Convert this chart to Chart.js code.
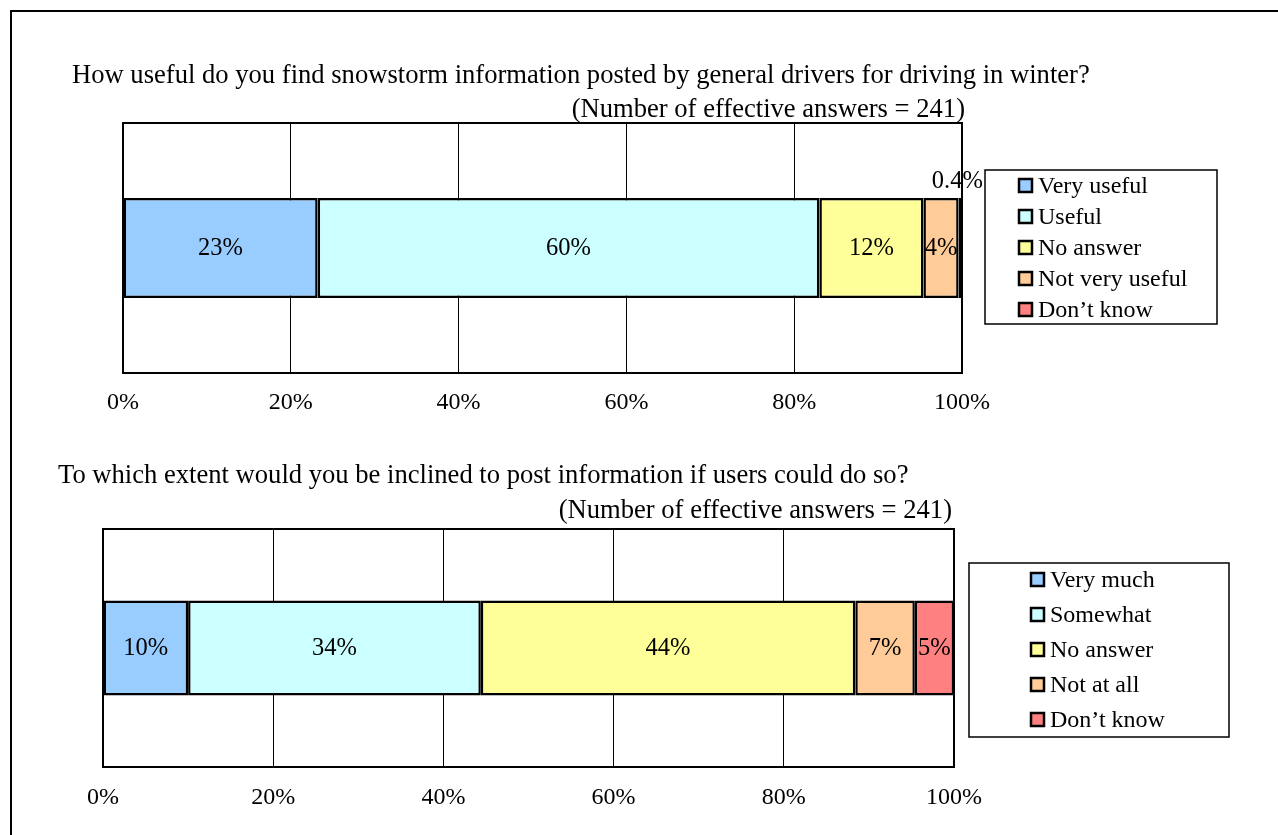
<!DOCTYPE html>
<html>
<head>
<meta charset="utf-8">
<script src="https://cdn.jsdelivr.net/npm/chart.js@4/dist/chart.umd.min.js"></script>
<style>
  html, body { margin: 0; padding: 0; background: #fff; overflow: hidden; }
  #frame { position: absolute; left: 10px; top: 10px; width: 1400px; height: 1000px; border: 2px solid #000; box-sizing: border-box; }
  .box { position: absolute; left: 0; width: 1278px; }
</style>
</head>
<body>
<div id="frame"></div>
<div class="box" style="top:0;height:430px"><canvas id="c1"></canvas></div>
<div class="box" style="top:430px;height:405px"><canvas id="c2"></canvas></div>
<script>
// survey 1
var title1  = 'How useful do you find snowstorm information posted by general drivers for driving in winter?',
    note1   = '(Number of effective answers = 241)',
    cats1   = ['Very useful', 'Useful', 'No answer', 'Not very useful', 'Don\u2019t know'],
    vals1   = [23.2, 59.8, 12.4, 4.2, 0.4];

// survey 2
var title2  = 'To which extent would you be inclined to post information if users could do so?',
    note2   = '(Number of effective answers = 241)',
    cats2   = ['Very much', 'Somewhat', 'No answer', 'Not at all', 'Don\u2019t know'],
    vals2   = [10.0, 34.4, 44.0, 7.0, 4.6];

var colors  = ['#99CCFF', '#CCFFFF', '#FFFF99', '#FFCC99', '#FF8080'],
    xMax    = 100,
    xStep   = 20;

var FONT = '"Liberation Serif", "Times New Roman", serif';

var fmtPct = function(v){
    return (v < 1 ? v.toFixed(1) : Math.round(v)) + '%';
};

// frame, titles, segment labels and boxed legend
var extras = {
    id: 'extras',
    afterDraw: function(chart){
        var ctx = chart.ctx,
            o   = chart.options.plugins.extras,
            a   = chart.chartArea;

        ctx.save();
        ctx.strokeStyle = '#000';
        ctx.lineWidth = 2;
        ctx.strokeRect(a.left, a.top, a.right - a.left, a.bottom - a.top);

        ctx.fillStyle = '#000';
        ctx.font = '26.6px ' + FONT;
        ctx.textBaseline = 'middle';
        ctx.textAlign = 'left';
        ctx.fillText(o.title, o.titleX, o.titleY);
        ctx.textAlign = 'right';
        ctx.fillText(o.note, o.noteX, o.noteY);

        // values on the bar
        ctx.font = '24.5px ' + FONT;
        ctx.textAlign = 'center';
        chart.data.datasets.forEach(function(ds, i){
            var bar = chart.getDatasetMeta(i).data[0],
                v   = ds.data[0];
            if (!bar) return;
            var cx = (bar.x + bar.base) / 2;
            if (v < 1){
                ctx.fillText(fmtPct(v), cx - 3, bar.y - bar.height / 2 - 16);
            } else {
                ctx.fillText(fmtPct(v), cx, bar.y + 1);
            }
        });

        // legend
        var L = o.legend;
        ctx.font = '24px ' + FONT;
        ctx.lineWidth = 1.5;
        ctx.fillStyle = '#fff';
        ctx.fillRect(L.x, L.y, L.w, L.h);
        ctx.strokeRect(L.x, L.y, L.w, L.h);
        ctx.textAlign = 'left';
        chart.data.datasets.forEach(function(ds, i){
            var y = L.firstY + i * L.gap;
            ctx.fillStyle = ds.backgroundColor;
            ctx.fillRect(L.sx, y - 7, 13, 13);
            ctx.lineWidth = 2.5;
            ctx.strokeRect(L.sx, y - 7, 13, 13);
            ctx.fillStyle = '#000';
            ctx.fillText(ds.label, L.sx + 19, y + 1);
        });
        ctx.restore();
    }
};

var makeChart = function(id, cats, vals, pad, axisH, tickPad, extraOpts){
    var datasets = [];
    cats.forEach(function(c, i){
        datasets.push({
            label: c,
            data: [vals[i]],
            backgroundColor: colors[i],
            borderColor: '#000',
            borderWidth: 2.5,
            borderSkipped: false,
            categoryPercentage: 1,
            barPercentage: 0.4
        });
    });

    return new Chart(document.getElementById(id), {
        type: 'bar',
        data: { labels: [''], datasets: datasets },
        options: {
            indexAxis: 'y',
            responsive: true,
            maintainAspectRatio: false,
            animation: false,
            layout: { padding: pad },
            plugins: {
                legend: { display: false },
                tooltip: { enabled: false },
                extras: extraOpts
            },
            scales: {
                x: {
                    stacked: true,
                    min: 0,
                    max: xMax,
                    grid: { color: '#000', lineWidth: 1, drawTicks: false },
                    border: { display: false },
                    ticks: {
                        stepSize: xStep,
                        padding: tickPad,
                        color: '#000',
                        font: { family: FONT, size: 24 },
                        callback: function(v){ return v + '%'; }
                    },
                    afterFit: function(scale){ scale.height = axisH; }
                },
                y: { stacked: true, display: false }
            }
        },
        plugins: [extras]
    });
};

makeChart('c1', cats1, vals1, { left: 123, top: 123, right: 316, bottom: 0 }, 57, 15, {
    title: title1, titleX: 72, titleY: 76,
    note: note1, noteX: 965, noteY: 110,
    legend: { x: 985, y: 170, w: 232, h: 154, sx: 1019, firstY: 186, gap: 31 }
});

makeChart('c2', cats2, vals2, { left: 103, top: 99, right: 324, bottom: 0 }, 68, 16, {
    title: title2, titleX: 58, titleY: 46,
    note: note2, noteX: 952, noteY: 81,
    legend: { x: 969, y: 133, w: 260, h: 174, sx: 1031, firstY: 150, gap: 35 }
});
</script>
</body>
</html>
